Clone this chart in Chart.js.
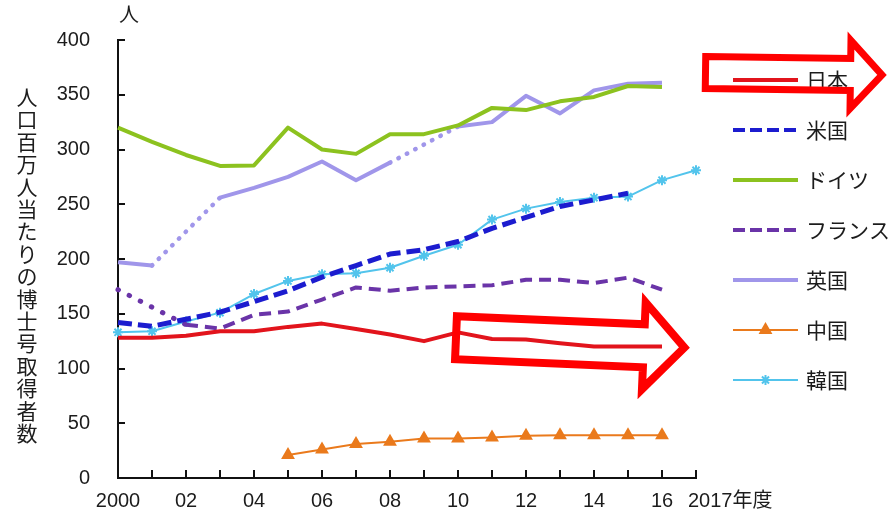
<!DOCTYPE html>
<html lang="ja">
<head>
<meta charset="utf-8">
<title>人口百万人当たりの博士号取得者数</title>
<script src="https://cdn.jsdelivr.net/npm/chart.js@4/dist/chart.umd.min.js"></script>
<style>
  html, body { margin: 0; padding: 0; background: #ffffff; }
  canvas { display: block; }
</style>
</head>
<body>
<canvas id="chart" width="888" height="518"></canvas>
<script>
// ---- data -------------------------------------------------------------
const years = ['2000','2001','2002','2003','2004','2005','2006','2007','2008',
               '2009','2010','2011','2012','2013','2014','2015','2016','2017'];
const xTickLabels = ['2000','','02','','04','','06','','08','','10','','12','','14','','16',''];
const lastYearLabel = '2017年度';
const unitLabel = '人';
const yAxisTitle = '人口百万人当たりの博士号取得者数';
const seriesNames = ['日本', '米国', 'ドイツ', 'フランス', '英国', '中国', '韓国'];

const japan   = [128, 128, 130, 134, 134, 138, 141, 136, 131, 125, 133, 127, 126.5, 123, 120, 120, 120, null];
const usa     = [142, 138.5, 145, 151.5, 161, 171, 183.5, 194, 204.5, 208.5, 216, 228, 238, 248, 254, 260, null, null];
const germany = [320, 307, 295, 285, 285.5, 320, 300, 296, 314, 314, 322, 338, 336, 344, 348, 358, 357, null];
const france  = [172, null, 140, 136.5, 149, 152, 163, 174, 171, 174, 175, 176, 181, 181, 178, 183, 172, null];
const uk      = [197, 194, null, 256, 265, 275, 289, 272, 288, null, 321, 325, 349, 333, 354, 360, 361, null];
const china   = [null, null, null, null, null, 21, 26, 31, 33, 36, 36, 37, 38.5, 39, 39, 39, 39, null];
const korea   = [133, 134, 143, 151, 168, 180, 186, 187, 192, 203, 213, 236, 246, 252, 256, 257, 272, 281];

// ---- styling ----------------------------------------------------------
const NUM_FONT = "'Liberation Sans', Arial, Helvetica, sans-serif";
const JP_FONT = "'Noto Sans CJK JP', 'Noto Sans', sans-serif";
const TEXT_COLOR = '#1c1c1c';

// a segment that bridges a missing year is drawn as a dotted line
const bridgesGap = ctx => {
  const data = ctx.chart.data.datasets[ctx.datasetIndex].data;
  return ctx.p1DataIndex > 0 && data[ctx.p1DataIndex - 1] === null;
};
function dottedOverGaps(dots, width) {
  return {
    borderDash: ctx => bridgesGap(ctx) ? dots : undefined,
    borderCapStyle: ctx => bridgesGap(ctx) ? 'round' : undefined,
    borderWidth: ctx => bridgesGap(ctx) ? width : undefined
  };
}

const seriesValues = [japan, usa, germany, france, uk, china, korea];
const seriesStyles = [
  { color: '#e2141c', width: 4,   dash: [] },
  { color: '#1c1ccf', width: 5,   dash: [14, 6] },
  { color: '#8cc21f', width: 4,   dash: [] },
  { color: '#6a34a8', width: 4,   dash: [12, 7], segment: dottedOverGaps([0.5, 12], 5) },
  { color: '#a096ea', width: 4,   dash: [], segment: dottedOverGaps([0.5, 9], 4.5) },
  { color: '#ea7a1c', width: 2,   dash: [], point: 'triangle', radius: 6 },
  { color: '#52c4ec', width: 2,   dash: [], point: 'star', radius: 5 }
];

const datasets = seriesNames.map((name, i) => {
  const s = seriesStyles[i];
  const ds = {
    label: name,
    data: seriesValues[i],
    borderColor: s.color,
    backgroundColor: s.color,
    borderWidth: s.width,
    borderDash: s.dash,
    borderJoinStyle: 'round',
    tension: 0,
    spanGaps: true,
    clip: false,
    pointStyle: s.point || 'circle',
    pointRadius: s.point ? s.radius : 0,
    pointHoverRadius: s.point ? s.radius : 0,
    pointBorderWidth: 2,
    pointBorderColor: s.color,
    pointBackgroundColor: s.color
  };
  if (s.segment) ds.segment = s.segment;
  return ds;
});

// ---- decorations ------------------------------------------------------
// inward tick marks on both axes
const inwardTicks = {
  id: 'inwardTicks',
  afterDatasetsDraw(chart) {
    const { ctx, chartArea, scales } = chart;
    ctx.save();
    ctx.strokeStyle = '#111';
    ctx.lineWidth = 2;
    ctx.beginPath();
    for (let i = 0; i < years.length; i++) {
      const x = Math.round(scales.x.getPixelForValue(i));
      ctx.moveTo(x, chartArea.bottom);
      ctx.lineTo(x, chartArea.bottom - 8);
    }
    scales.y.ticks.forEach(t => {
      const y = Math.round(scales.y.getPixelForValue(t.value));
      ctx.moveTo(chartArea.left, y);
      ctx.lineTo(chartArea.left + 7, y);
    });
    ctx.stroke();
    ctx.restore();
  }
};

function drawArrow(ctx, x0, y0, x1, y1, shaftHalf, headHalf, headLen, lw) {
  const ang = Math.atan2(y1 - y0, x1 - x0);
  const L = Math.hypot(x1 - x0, y1 - y0);
  ctx.save();
  ctx.translate(x0, y0);
  ctx.rotate(ang);
  ctx.beginPath();
  ctx.moveTo(0, -shaftHalf);
  ctx.lineTo(L - headLen, -shaftHalf);
  ctx.lineTo(L - headLen, -headHalf);
  ctx.lineTo(L, 0);
  ctx.lineTo(L - headLen, headHalf);
  ctx.lineTo(L - headLen, shaftHalf);
  ctx.lineTo(0, shaftHalf);
  ctx.closePath();
  ctx.lineWidth = lw;
  ctx.lineJoin = 'miter';
  ctx.miterLimit = 10;
  ctx.strokeStyle = '#ff0000';
  ctx.stroke();
  ctx.restore();
}

const decorations = {
  id: 'decorations',
  afterDraw(chart) {
    const { ctx, chartArea, scales } = chart;
    ctx.save();
    ctx.fillStyle = TEXT_COLOR;

    // vertical axis title, one character per line
    ctx.font = `21px ${JP_FONT}`;
    ctx.textAlign = 'center';
    ctx.textBaseline = 'middle';
    [...yAxisTitle].forEach((ch, i) => ctx.fillText(ch, 27, 97 + i * 22.4));

    // unit above the axis
    ctx.font = `20px ${JP_FONT}`;
    ctx.fillText(unitLabel, chartArea.left + 11, 14);

    // final year label, left aligned at the last tick
    ctx.font = `20px ${NUM_FONT}, ${JP_FONT}`;
    ctx.textAlign = 'left';
    ctx.fillText(lastYearLabel, scales.x.getPixelForValue(years.length - 1) - 8, 501);

    // legend
    const legendX0 = 733, legendX1 = 798, legendTop = 80, legendStep = 50;
    chart.data.datasets.forEach((ds, i) => {
      const y = legendTop + i * legendStep;
      ctx.save();
      ctx.strokeStyle = ds.borderColor;
      ctx.lineWidth = Math.min(ds.borderWidth, 4);
      ctx.setLineDash(ds.borderDash && ds.borderDash.length ? [12, 5] : []);
      ctx.beginPath();
      ctx.moveTo(legendX0, y);
      ctx.lineTo(legendX1, y);
      ctx.stroke();
      ctx.setLineDash([]);
      if (ds.pointRadius > 0) {
        ctx.fillStyle = ds.pointBackgroundColor;
        ctx.strokeStyle = ds.pointBorderColor;
        ctx.lineWidth = ds.pointBorderWidth;
        Chart.helpers.drawPoint(ctx, {
          pointStyle: ds.pointStyle, radius: ds.pointRadius,
          borderWidth: ds.pointBorderWidth, rotation: 0
        }, (legendX0 + legendX1) / 2, y);
      }
      ctx.restore();
      ctx.font = `21px ${JP_FONT}`;
      ctx.textAlign = 'left';
      ctx.textBaseline = 'middle';
      ctx.fillStyle = TEXT_COLOR;
      ctx.fillText(ds.label, 806, y);
    });

    // highlight arrows: around the 日本 legend entry and along its recent trend
    drawArrow(ctx, 705.5, 72.5, 882, 75, 16, 34, 31.5, 7);
    drawArrow(ctx, 456, 337.7, 684.4, 347.6, 21.5, 43.4, 40.6, 8);

    ctx.restore();
  }
};

// ---- chart ------------------------------------------------------------
new Chart(document.getElementById('chart'), {
  type: 'line',
  data: { labels: years, datasets },
  options: {
    responsive: false,
    animation: false,
    events: [],
    layout: { padding: { left: 0, top: 40, right: 192, bottom: 0 } },
    plugins: {
      legend: { display: false },
      tooltip: { enabled: false },
      title: { display: false }
    },
    scales: {
      x: {
        type: 'category',
        offset: false,
        grid: { display: false, drawTicks: false },
        border: { display: true, color: '#111', width: 2 },
        ticks: {
          autoSkip: false,
          maxRotation: 0,
          padding: 11,
          color: TEXT_COLOR,
          font: { family: NUM_FONT, size: 20 },
          callback: (v, i) => xTickLabels[i]
        },
        afterFit: scale => { scale.height = 39; }
      },
      y: {
        min: 0,
        max: 400,
        grid: { display: false, drawTicks: false },
        border: { display: true, color: '#111', width: 2 },
        ticks: {
          stepSize: 50,
          padding: 28,
          color: TEXT_COLOR,
          font: { family: NUM_FONT, size: 20 }
        },
        afterFit: scale => { scale.width = 118; }
      }
    }
  },
  plugins: [inwardTicks, decorations]
});
</script>
</body>
</html>
